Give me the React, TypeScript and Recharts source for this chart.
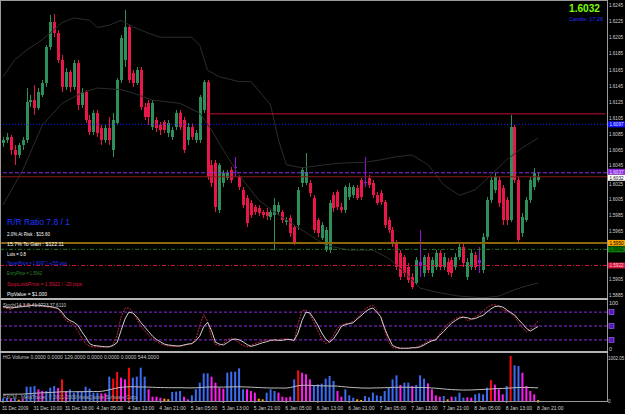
import React from 'react'
import { ComposedChart, Bar, Line, XAxis, YAxis, ReferenceLine, Cell } from 'recharts'

// hourly GBPUSD candles, 31 Dec 2009 .. 8 Jan 2010
const opens = [
  1.6074, 1.6078, 1.6081, 1.6065, 1.6059, 1.6071, 1.6078, 1.6125, 1.6127, 1.6117,
  1.6133, 1.6148, 1.6193, 1.6224, 1.6210, 1.6177, 1.6143, 1.6162, 1.6143, 1.6173,
  1.6121, 1.6137, 1.6102, 1.6088, 1.6111, 1.6092, 1.6078, 1.6092, 1.6065, 1.6099,
  1.6152, 1.6177, 1.6218, 1.6161, 1.6148, 1.6164, 1.6119, 1.6123, 1.6094, 1.6102,
  1.6096, 1.6100, 1.6086, 1.6081, 1.6094, 1.6111, 1.6102, 1.6078, 1.6094, 1.6078,
  1.6078, 1.6115, 1.6150, 1.6047, 1.6049, 1.5991, 1.6024, 1.6030, 1.6040, 1.6044,
  1.6032, 1.6016, 1.6006, 1.5999, 1.5995, 1.5993, 1.5988, 1.5988, 1.5982, 1.5985,
  1.5988, 1.5988, 1.5976, 1.5981, 1.5970, 1.5972, 1.6024, 1.6024, 1.6024, 1.6006,
  1.5978, 1.5956, 1.5941, 1.5941, 1.6009, 1.6013, 1.5995, 1.5991, 1.6007, 1.6009,
  1.6018, 1.6028, 1.6026, 1.6030, 1.6024, 1.6009, 1.6012, 1.6001, 1.5978, 1.5966,
  1.5950, 1.5937, 1.5933, 1.5920, 1.5908, 1.5900, 1.5926, 1.5913, 1.5933, 1.5913,
  1.5920, 1.5937, 1.5920, 1.5926, 1.5929, 1.5920, 1.5933, 1.5945, 1.5908, 1.5920,
  1.5935, 1.5929, 1.5916, 1.5957, 1.6003, 1.6016, 1.6028, 1.6018, 1.6003, 1.5978,
  1.6094, 1.6028, 1.5962, 1.5978, 1.6003, 1.6019, 1.6028,
]
const highs = [
  1.6081, 1.6086, 1.6084, 1.6071, 1.6074, 1.6081, 1.6142, 1.6133, 1.6146, 1.6142,
  1.6152, 1.6195, 1.6233, 1.6234, 1.6214, 1.6183, 1.6167, 1.6164, 1.6177, 1.6177,
  1.6142, 1.6140, 1.6109, 1.6115, 1.6115, 1.6096, 1.6096, 1.6106, 1.6111, 1.6154,
  1.6208, 1.6239, 1.6220, 1.6164, 1.6168, 1.6168, 1.6123, 1.6127, 1.6127, 1.6106,
  1.6100, 1.6102, 1.6102, 1.6094, 1.6115, 1.6115, 1.6106, 1.6099, 1.6099, 1.6090,
  1.6133, 1.6152, 1.6152, 1.6053, 1.6053, 1.6049, 1.6040, 1.6040, 1.6044, 1.6057,
  1.6034, 1.6019, 1.6009, 1.6003, 1.5997, 1.5997, 1.5991, 1.5993, 1.5991, 1.6006,
  1.6001, 1.5991, 1.5982, 1.5985, 1.5972, 1.6019, 1.6044, 1.6061, 1.6028, 1.6009,
  1.5981, 1.5976, 1.5970, 1.6003, 1.6013, 1.6016, 1.5999, 1.6022, 1.6024, 1.6022,
  1.6022, 1.6030, 1.6057, 1.6034, 1.6028, 1.6013, 1.6016, 1.6003, 1.5982, 1.5970,
  1.5954, 1.5941, 1.5935, 1.5925, 1.5913, 1.5933, 1.5966, 1.5935, 1.5937, 1.5933,
  1.5941, 1.5941, 1.5937, 1.5931, 1.5933, 1.5937, 1.5950, 1.5950, 1.5931, 1.5941,
  1.5939, 1.5945, 1.5962, 1.6007, 1.6032, 1.6037, 1.6032, 1.6022, 1.6007, 1.6109,
  1.6096, 1.6032, 1.5987, 1.6007, 1.6032, 1.6043, 1.6037,
]
const lows = [
  1.6069, 1.6074, 1.6059, 1.6047, 1.6055, 1.6065, 1.6074, 1.6119, 1.6109, 1.6115,
  1.6131, 1.6143, 1.6189, 1.6205, 1.6173, 1.6137, 1.6140, 1.6137, 1.6140, 1.6115,
  1.6117, 1.6099, 1.6084, 1.6084, 1.6081, 1.6071, 1.6074, 1.6071, 1.6057, 1.6096,
  1.6148, 1.6168, 1.6148, 1.6143, 1.6146, 1.6115, 1.6102, 1.6096, 1.6090, 1.6088,
  1.6084, 1.6086, 1.6081, 1.6078, 1.6090, 1.6090, 1.6061, 1.6071, 1.6078, 1.6074,
  1.6074, 1.6111, 1.6028, 1.6019, 1.5988, 1.5987, 1.6019, 1.6028, 1.6024, 1.6032,
  1.6016, 1.5993, 1.5970, 1.5981, 1.5985, 1.5983, 1.5981, 1.5978, 1.5978, 1.5941,
  1.5985, 1.5975, 1.5972, 1.5957, 1.5947, 1.5966, 1.6019, 1.6022, 1.6007, 1.5962,
  1.5957, 1.5954, 1.5939, 1.5937, 1.5988, 1.5991, 1.5987, 1.5987, 1.6003, 1.6006,
  1.6003, 1.6003, 1.6019, 1.6018, 1.6006, 1.5997, 1.5997, 1.5968, 1.5962, 1.5945,
  1.5916, 1.5904, 1.5908, 1.5900, 1.5893, 1.5898, 1.5908, 1.5908, 1.5913, 1.5908,
  1.5916, 1.5916, 1.5916, 1.5910, 1.5908, 1.5916, 1.5929, 1.5920, 1.5904, 1.5916,
  1.5916, 1.5913, 1.5913, 1.5954, 1.5999, 1.6012, 1.5995, 1.5972, 1.5972, 1.5976,
  1.6024, 1.5950, 1.5957, 1.5976, 1.5999, 1.6016, 1.6026,
]
const closes = [
  1.6078, 1.6081, 1.6065, 1.6059, 1.6071, 1.6078, 1.6125, 1.6127, 1.6117, 1.6137,
  1.6148, 1.6193, 1.6224, 1.6210, 1.6177, 1.6143, 1.6162, 1.6143, 1.6173, 1.6121,
  1.6137, 1.6102, 1.6088, 1.6111, 1.6086, 1.6078, 1.6092, 1.6078, 1.6102, 1.6152,
  1.6204, 1.6218, 1.6152, 1.6148, 1.6164, 1.6119, 1.6106, 1.6106, 1.6123, 1.6092,
  1.6090, 1.6090, 1.6099, 1.6090, 1.6111, 1.6094, 1.6065, 1.6094, 1.6081, 1.6086,
  1.6131, 1.6150, 1.6032, 1.6024, 1.5995, 1.6047, 1.6037, 1.6037, 1.6028, 1.6043,
  1.6019, 1.5997, 1.5975, 1.5985, 1.5988, 1.5987, 1.5985, 1.5983, 1.5988, 1.5997,
  1.5997, 1.5978, 1.5978, 1.5962, 1.5951, 1.6016, 1.6040, 1.6038, 1.6012, 1.5966,
  1.5962, 1.5972, 1.5966, 1.5999, 1.5993, 1.5995, 1.5991, 1.6019, 1.6019, 1.6019,
  1.6006, 1.6007, 1.6024, 1.6022, 1.6009, 1.5999, 1.6001, 1.5972, 1.5966, 1.5950,
  1.5920, 1.5908, 1.5913, 1.5904, 1.5895, 1.5929, 1.5921, 1.5933, 1.5916, 1.5929,
  1.5937, 1.5920, 1.5933, 1.5914, 1.5913, 1.5933, 1.5945, 1.5925, 1.5926, 1.5937,
  1.5920, 1.5925, 1.5957, 1.6003, 1.6028, 1.6032, 1.5999, 1.5978, 1.5978, 1.6094,
  1.6028, 1.5954, 1.5982, 1.6003, 1.6028, 1.6037, 1.6032,
]
const dojiBars = [59, 92, 106, 121]

// envelope bands, read at a few bars
const upperBand: [number, number][] = [
  [0, 1.6156], [3, 1.6177], [6, 1.6189], [10, 1.6202], [15, 1.6223], [18, 1.6229], [22, 1.6226],
  [24, 1.6217], [27, 1.622], [30, 1.6226], [33, 1.6218], [37, 1.621], [40, 1.6205], [48, 1.6205],
  [50, 1.6195], [52, 1.6164], [55, 1.6156], [60, 1.615], [63, 1.615], [66, 1.6133], [68, 1.6121],
  [70, 1.6078], [72, 1.6047], [76, 1.6043], [82, 1.6047], [86, 1.6049], [92, 1.605], [96, 1.6053],
  [100, 1.6057], [104, 1.6059], [108, 1.6047], [112, 1.6022], [116, 1.6009], [120, 1.6016],
  [124, 1.6034], [128, 1.6053], [132, 1.6068], [136, 1.608],
]
const lowerBand: [number, number][] = [
  [0, 1.5997], [5, 1.604], [10, 1.6096], [15, 1.6123], [20, 1.6136], [24, 1.6142], [30, 1.614],
  [33, 1.6136], [38, 1.6127], [45, 1.6123], [50, 1.6111], [53, 1.609], [56, 1.6065], [60, 1.6034],
  [65, 1.6003], [70, 1.5985], [76, 1.5966], [82, 1.5947], [88, 1.5941], [94, 1.5941], [98, 1.5931],
  [102, 1.5914], [106, 1.5894], [110, 1.5889], [116, 1.5884], [122, 1.5882], [126, 1.5884],
  [130, 1.5892], [134, 1.5898], [136, 1.59],
]

// stochastic %K (red) and %D (white)
const stochK = [
  90, 88, 86, 90, 93, 95, 96, 96, 95, 94, 93, 91, 90, 89, 88,
  75, 62, 58, 52, 40, 25, 12, 6, 5, 5, 4, 5, 5, 10, 30,
  70, 88, 89, 80, 65, 50, 40, 30, 22, 16, 12, 9, 7, 6, 6,
  6, 8, 10, 12, 22, 50, 75, 60, 25, 10, 8, 12, 20, 24, 20,
  14, 8, 5, 8, 12, 15, 18, 20, 20, 18, 20, 22, 22, 20, 18,
  55, 82, 85, 75, 58, 40, 22, 12, 16, 30, 45, 52, 55, 56, 60,
  68, 76, 86, 92, 95, 85, 68, 40, 15, 3, 2, 1, 1, 2, 3,
  4, 7, 12, 17, 19, 22, 34, 44, 54, 60, 66, 70, 70, 62, 64,
  70, 74, 82, 90, 95, 96, 92, 85, 82, 78, 70, 58, 46, 38, 42, 52, 60,
]
const stochD = [
  92, 90, 89, 90, 91, 92, 93, 94, 95, 95,
  94, 93, 92, 90, 88, 80, 68, 62, 58, 52,
  38, 26, 12, 8, 7, 6, 5, 5, 8, 14,
  40, 65, 80, 78, 70, 58, 48, 38, 28, 21,
  16, 11, 9, 8, 7, 7, 9, 11, 12, 18,
  28, 48, 58, 40, 15, 11, 9, 14, 20, 22,
  20, 16, 10, 6, 8, 11, 14, 16, 19, 20,
  19, 19, 21, 21, 19, 35, 62, 80, 78, 66,
  52, 35, 22, 15, 22, 35, 49, 53, 55, 57,
  65, 72, 80, 86, 89, 80, 70, 45, 25, 8,
  4, 2, 2, 2, 3, 3, 5, 9, 14, 18,
  20, 30, 38, 48, 56, 62, 67, 69, 68, 65,
  66, 70, 73, 80, 87, 92, 93, 91, 85, 79,
  74, 64, 55, 45, 39, 44, 49,
]

// HG volume histogram
const volumes = [
  55, 70, 45, 60, 30, 50, 319, 319, 334, 260,
  223, 223, 297, 334, 289, 482, 223, 260, 186, 223,
  223, 319, 275, 186, 186, 171, 171, 542, 497, 646,
  520, 482, 742, 520, 542, 742, 542, 260, 96, 96,
  74, 52, 40, 200, 208, 223, 96, 37, 126, 260,
  408, 616, 616, 542, 408, 297, 275, 631, 653, 653,
  727, 260, 260, 223, 186, 52, 37, 186, 260, 223,
  186, 96, 82, 96, 482, 683, 631, 594, 482, 334,
  371, 386, 497, 557, 445, 223, 96, 260, 126, 74,
  37, 22, 111, 82, 186, 126, 111, 223, 297, 482,
  571, 356, 408, 408, 334, 356, 571, 497, 393, 260,
  126, 96, 111, 37, 96, 96, 186, 74, 82, 74,
  148, 171, 148, 297, 467, 364, 260, 148, 334, 1002.05,
  794, 779, 631, 334, 223, 148, 22,
]
const volumeKinds = [
  'b', 'b', 'm', 'b', 'o', 'm', 'b', 'b', 'b', 'm',
  'm', 'b', 'b', 'b', 'm', 'r', 'm', 'b', 'b', 'b',
  'b', 'b', 'b', 'b', 'b', 'm', 'm', 'b', 'r', 'r',
  'm', 'm', 'r', 'b', 'b', 'b', 'b', 'm', 'm', 'm',
  'm', 'o', 'o', 'b', 'b', 'b', 'm', 'm', 'b', 'b',
  'b', 'b', 'b', 'm', 'm', 'm', 'm', 'b', 'b', 'b',
  'b', 'b', 'm', 'm', 'm', 'o', 'o', 'b', 'b', 'b',
  'm', 'm', 'm', 'm', 'b', 'r', 'm', 'm', 'm', 'b',
  'b', 'b', 'b', 'b', 'b', 'm', 'm', 'b', 'b', 'b',
  'o', 'o', 'b', 'b', 'b', 'b', 'b', 'b', 'b', 'b',
  'b', 'm', 'b', 'b', 'm', 'b', 'b', 'b', 'm', 'm',
  'm', 'm', 'b', 'o', 'm', 'b', 'b', 'b', 'm', 'm',
  'b', 'b', 'b', 'b', 'r', 'm', 'm', 'm', 'b', 'r',
  'b', 'b', 'm', 'm', 'm', 'm', 'o',
]
const volumeMA = [
  150, 150, 152, 152, 153, 153, 160, 165, 172, 178,
  182, 186, 190, 195, 200, 205, 205, 205, 206, 206,
  206, 208, 210, 210, 212, 214, 230, 250, 270, 290,
  305, 312, 318, 318, 315, 312, 312, 310, 306, 302,
  300, 298, 296, 296, 296, 296, 294, 292, 292, 294,
  300, 306, 310, 312, 312, 310, 310, 312, 314, 316,
  316, 314, 312, 308, 304, 300, 296, 292, 290, 290,
  290, 288, 288, 300, 320, 340, 350, 352, 350, 345,
  340, 338, 336, 335, 334, 330, 322, 314, 306, 300,
  296, 290, 288, 288, 290, 292, 294, 296, 300, 304,
  306, 306, 306, 306, 304, 302, 302, 300, 296, 290,
  284, 276, 268, 260, 254, 250, 246, 244, 244, 246,
  250, 254, 258, 262, 268, 274, 278, 280, 284, 290,
  296, 300, 302, 302, 300, 296, 292,
]

const timeTickIdx = [0, 8, 16, 24, 32, 40, 48, 56, 64, 72, 80, 88, 96, 104, 112, 120, 128, 136]
const timeLabels = [
  '31 Dec 2009', '31 Dec 10:00', '31 Dec 18:00', '4 Jan 05:00', '4 Jan 13:00', '4 Jan 21:00',
  '5 Jan 05:00', '5 Jan 13:00', '5 Jan 21:00', '6 Jan 05:00', '6 Jan 13:00', '6 Jan 21:00',
  '7 Jan 05:00', '7 Jan 13:00', '7 Jan 21:00', '8 Jan 05:00', '8 Jan 13:00', '8 Jan 21:00',
]
const priceTicks = [
  1.6245, 1.6225, 1.6205, 1.6185, 1.6165, 1.6145, 1.6125, 1.6105, 1.6085, 1.6065,
  1.6045, 1.6025, 1.6005, 1.5985, 1.5965, 1.5905, 1.5885,
]

const SLOTS = 154
const FONT = 'Liberation Sans'
const VOL_COLORS: Record<string, string> = { b: '#3b6cf2', m: '#ff1cf0', r: '#ff0a0a', o: '#ffa000' }

const rows = Array.from({ length: SLOTS }, (_, i) => {
  const up = upperBand.find((p) => p[0] === i)
  const dn = lowerBand.find((p) => p[0] === i)
  return {
    i,
    o: opens[i] ?? null,
    h: highs[i] ?? null,
    l: lows[i] ?? null,
    c: closes[i] ?? null,
    doji: dojiBars.includes(i),
    up: up ? up[1] : null,
    dn: dn ? dn[1] : null,
    v: volumes[i] ?? null,
    kind: volumeKinds[i] ?? 'b',
    ma: volumeMA[i] ?? null,
    k: stochK[i] ?? null,
    d: stochD[i] ?? null,
  }
})

function Candle(props: any) {
  const { x, y, width, height, payload } = props
  if (!payload || payload.o == null) return null
  const top = Math.min(y, y + height)
  const h = Math.abs(height)
  const span = payload.h - payload.l || 0.0001
  const py = (p: number) => top + ((payload.h - p) / span) * h
  const cx = Math.round(x + width / 2)
  const rising = payload.c >= payload.o
  const color = payload.doji ? '#9a10d8' : rising ? '#2f8f5b' : '#e8174a'
  const bTop = py(Math.max(payload.o, payload.c))
  const bBot = py(Math.min(payload.o, payload.c))
  return (
    <g shapeRendering="crispEdges">
      <rect x={cx} y={top} width={1} height={Math.max(h, 1)} fill={color} />
      <rect x={cx - 1} y={bTop} width={3} height={Math.max(bBot - bTop, 1)} fill={color} />
    </g>
  )
}

function PriceBox(props: any) {
  const { viewBox, bg, fg, text, dy = 0 } = props
  if (!viewBox) return null
  const x = viewBox.x + viewBox.width + 1
  const y = viewBox.y + dy
  return (
    <g>
      <rect x={x} y={y - 3} width={17} height={6} fill={bg} />
      <text x={x + 1.5} y={y + 2} fontSize={5} fill={fg} fontFamily={FONT} textLength={14} lengthAdjust="spacingAndGlyphs">
        {text}
      </text>
    </g>
  )
}

function LevelBox(props: any) {
  const { viewBox } = props
  if (!viewBox) return null
  const x = viewBox.x + viewBox.width + 2
  return <rect x={x} y={viewBox.y - 2.5} width={5} height={5} fill="#5b16b8" stroke="#a070ff" strokeWidth={0.6} />
}

function AxisText(props: any) {
  const { x, y, payload, fmt, len, shift, size = 5.5, dx = 0 } = props
  const s = fmt(payload.value)
  const dy = shift ? shift(payload.value) : 0
  return (
    <text x={x + dx} y={y + 2 + dy} fontSize={size} fill="#d4d4d4" fontFamily={FONT} textLength={len ? len(s) : undefined} lengthAdjust="spacingAndGlyphs">
      {s}
    </text>
  )
}

function TimeTick(props: any) {
  const { x, y, payload } = props
  const label = timeLabels[timeTickIdx.indexOf(payload.value)] ?? ''
  return (
    <text x={x - 1} y={y + 6} fontSize={5} fill="#d4d4d4" fontFamily={FONT} textLength={label.length * 2.4} lengthAdjust="spacingAndGlyphs">
      {label}
    </text>
  )
}

function MainPanel() {
  return (
    <ComposedChart width={625} height={300} data={rows} margin={{ top: 2, right: 0, bottom: 2, left: 1 }}>
      <XAxis dataKey="i" hide />
      <YAxis
        orientation="right"
        width={18}
        domain={[1.58817, 1.62487]}
        allowDataOverflow
        ticks={priceTicks}
        interval={0}
        axisLine={false}
        tickLine={false}
        tickSize={2}
        tickMargin={0}
        tick={
          <AxisText
            fmt={(v: number) => v.toFixed(4)}
            len={() => 14}
            shift={(v: number) => (v === 1.6025 ? 1.5 : v === 1.6045 ? -1.5 : 0)}
          />
        }
      />
      <Line dataKey="up" stroke="#2c2c2c" strokeWidth={1} dot={false} connectNulls isAnimationActive={false} />
      <Line dataKey="dn" stroke="#2c2c2c" strokeWidth={1} dot={false} connectNulls isAnimationActive={false} />
      <ReferenceLine segment={[{ x: 52, y: 1.611 }, { x: 153, y: 1.611 }]} stroke="#c8102e" strokeWidth={1} />
      <ReferenceLine y={1.6097} stroke="#1a1aff" strokeDasharray="1 2" label={<PriceBox bg="#1010ff" fg="#e0e0ff" text="1.6097" />} />
      <ReferenceLine y={1.6037} stroke="#8a2be2" strokeDasharray="4 2" label={<PriceBox bg="#8a2be2" fg="#f0e0ff" text="1.6037" dy={-1} />} />
      <ReferenceLine y={1.6032} stroke="#8b1a1a" label={<PriceBox bg="#ffffff" fg="#000000" text="1.6032" dy={1} />} />
      <ReferenceLine y={1.595} stroke="#8b6508" strokeWidth={2} label={<PriceBox bg="#ffa500" fg="#000000" text="1.5950" />} />
      <ReferenceLine y={1.5942} stroke="#1e7b1e" strokeDasharray="4 2 1 2" label={<PriceBox bg="#0a7a0a" fg="#002000" text="1.5942" />} />
      <ReferenceLine y={1.5922} stroke="#d0143c" strokeDasharray="4 2 1 2" label={<PriceBox bg="#d0143c" fg="#ffd0d8" text="1.5922" />} />
      <Bar
        dataKey={(d: any) => (d.o == null ? null : [d.l, d.h])}
        shape={<Candle />}
        isAnimationActive={false}
      />
    </ComposedChart>
  )
}

function StochPanel() {
  return (
    <ComposedChart width={625} height={52} data={rows} margin={{ top: 1, right: 0, bottom: 1, left: 1 }}>
      <XAxis dataKey="i" hide scale="band" />
      <YAxis
        orientation="right"
        width={18}
        domain={[-4, 104]}
        ticks={[0, 100]}
        interval={0}
        axisLine={false}
        tickLine={false}
        tickSize={2}
        tickMargin={0}
        tick={<AxisText fmt={(v: number) => String(v)} />}
      />
      <ReferenceLine y={80} stroke="#8a2be2" strokeDasharray="3 2" label={<LevelBox />} />
      <ReferenceLine y={50} stroke="#8a2be2" strokeDasharray="3 2" label={<LevelBox />} />
      <ReferenceLine y={20} stroke="#8a2be2" strokeDasharray="3 2" label={<LevelBox />} />
      <Line dataKey="k" stroke="#c0283c" strokeWidth={1} strokeDasharray="2 1" dot={false} isAnimationActive={false} />
      <Line dataKey="d" stroke="#cfcfcf" strokeWidth={1} dot={false} isAnimationActive={false} />
    </ComposedChart>
  )
}

function VolumePanel() {
  return (
    <ComposedChart width={625} height={62} data={rows} margin={{ top: 4, right: 0, bottom: 0, left: 1 }}>
      <XAxis
        dataKey="i"
        height={13}
        ticks={timeTickIdx}
        interval={0}
        axisLine={false}
        tickLine={{ stroke: '#a0a0a0' }}
        tickSize={2}
        tickMargin={1}
        tick={<TimeTick />}
      />
      <YAxis
        orientation="right"
        width={18}
        domain={[0, 1002.05]}
        ticks={[0, 1002.05]}
        interval={0}
        axisLine={false}
        tickLine={false}
        tickSize={2}
        tickMargin={0}
        tick={
          <AxisText
            fmt={(v: number) => (v === 0 ? '0' : v.toFixed(2))}
            size={4.5}
            dx={-1}
            shift={(v: number) => (v > 0 ? 2 : 0)}
          />
        }
      />
      <Bar dataKey="v" barSize={2} isAnimationActive={false}>
        {rows.map((r) => (
          <Cell key={r.i} fill={VOL_COLORS[r.kind]} />
        ))}
      </Bar>
      <Line dataKey="ma" stroke="#bdbdbd" strokeWidth={1} dot={false} isAnimationActive={false} />
    </ComposedChart>
  )
}

function T(props: { x: number; y: number; size: number; fill: string; len?: number; bold?: boolean; children: string }) {
  return (
    <text
      x={props.x}
      y={props.y}
      fontSize={props.size}
      fill={props.fill}
      fontFamily={FONT}
      fontWeight={props.bold ? 'bold' : 'normal'}
      textLength={props.len}
      lengthAdjust="spacingAndGlyphs"
    >
      {props.children}
    </text>
  )
}

export default function App() {
  return (
    <div style={{ position: 'absolute', left: 0, top: 0, width: 625, height: 414, background: '#000', overflow: 'hidden' }}>
      <div style={{ position: 'absolute', left: 0, top: 0 }}>
        <MainPanel />
      </div>
      <div style={{ position: 'absolute', left: 0, top: 300 }}>
        <StochPanel />
      </div>
      <div style={{ position: 'absolute', left: 0, top: 352 }}>
        <VolumePanel />
      </div>
      <svg width={625} height={414} style={{ position: 'absolute', left: 0, top: 0, pointerEvents: 'none' }}>
        <g shapeRendering="crispEdges" fill="#9a9a9a">
          <rect x={0} y={0} width={608} height={1} />
          <rect x={0} y={0} width={1} height={402} />
          <rect x={607} y={0} width={1} height={402} />
          <rect x={0} y={298} width={608} height={2} fill="#b4b4b4" />
          <rect x={0} y={351} width={608} height={2} fill="#b4b4b4" />
          <rect x={0} y={401} width={608} height={1} />
        </g>
        <T x={569} y={12} size={11} fill="#7cfc00" len={31} bold>1.6032</T>
        <T x={569} y={21} size={5} fill="#2828ff" len={34}>Candle: 17:26</T>

        <T x={7} y={225} size={9.5} fill="#2035ff" len={63}>R/R Ratio 7.8 / 1</T>
        <T x={7} y={235.5} size={6} fill="#ffffff" len={43}>2.0% At Risk :  $15.60</T>
        <T x={7} y={245.5} size={6} fill="#ffffff" len={57}>15.7% To Gain :  $122.11</T>
        <T x={7} y={255.5} size={6} fill="#ffffff" len={19}>Lots = 0.8</T>
        <T x={7} y={265} size={6} fill="#2035ff" len={60}>TargetPrice = 1.6097 / +155 pips</T>
        <T x={7} y={275} size={6} fill="#2e8b2e" len={35}>EntryPrice = 1.5942</T>
        <T x={7} y={286} size={6} fill="#dc143c" len={75}>StopLossPrice = 1.5922 / -20 pips</T>
        <T x={7} y={296} size={6} fill="#ffffff" len={40}>PipValue = $1.000</T>

        <T x={3} y={307} size={5} fill="#c8c8c8" len={63}>Stoch(14,3,3) 41.9723 37.6110</T>
        <T x={3} y={359} size={5} fill="#c8c8c8" len={156}>HG Volume 0.0000 0.0000 129.0000 0.0000 0.0000 0.0000 544.0000</T>
        <T x={3} y={399} size={5} fill="#a0a0a0" len={135}>FXCM - MetaTrader, © 2001-2009 MetaQuotes Software Corp.</T>
      </svg>
    </div>
  )
}
